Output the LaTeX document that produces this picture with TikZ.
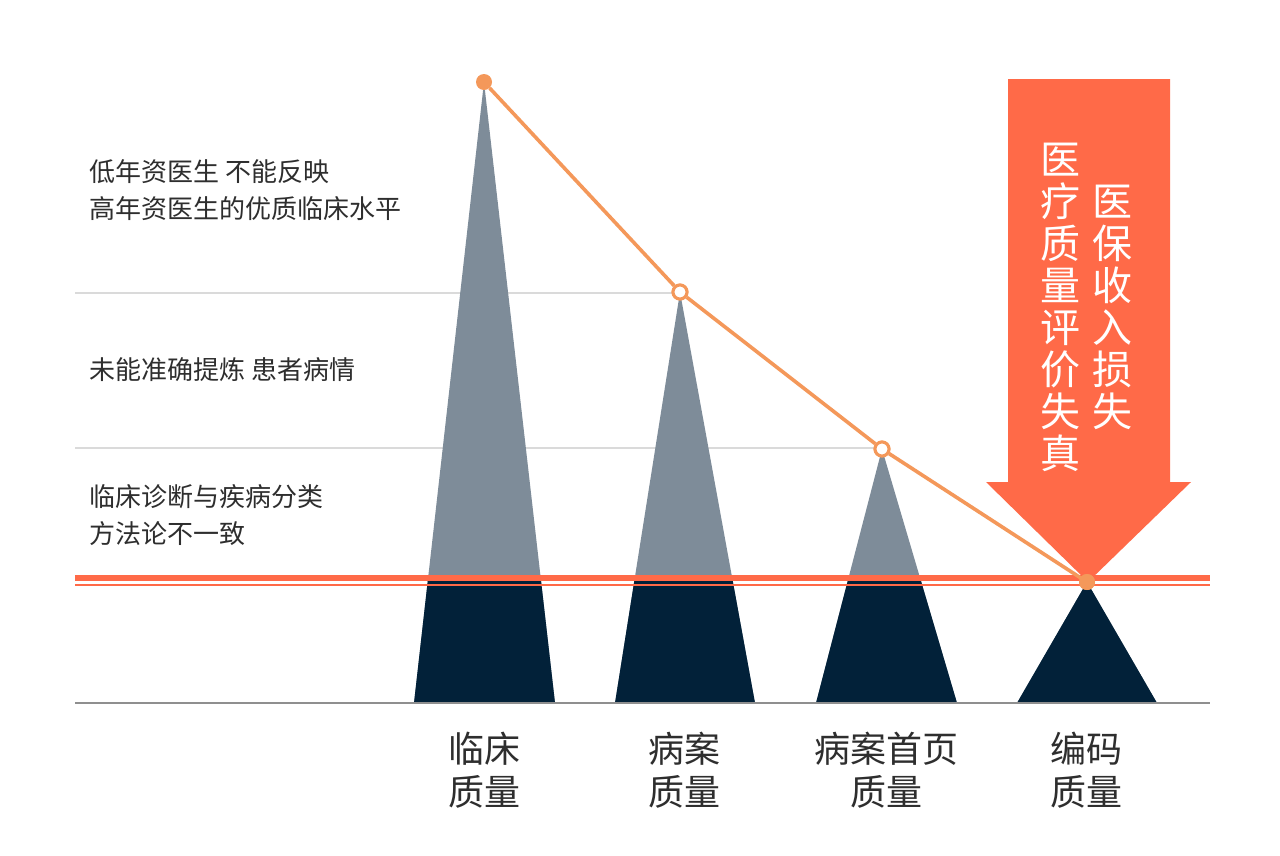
\documentclass[tikz,border=0pt]{standalone}
\usepackage{fontspec}
\setmainfont{Noto Sans CJK SC}
\definecolor{slategray}{HTML}{7E8C99}
\definecolor{navydark}{HTML}{022139}
\definecolor{orangeline}{HTML}{F4985A}
\definecolor{redorange}{HTML}{FF6A48}
\definecolor{guidegray}{HTML}{DADADA}
\definecolor{basegray}{HTML}{8F8F8F}
\definecolor{txtgray}{HTML}{2E2E2E}
\tikzset{
  peakup/.style={fill=slategray},
  peakdown/.style={fill=navydark},
  guide/.style={draw=guidegray, line width=2pt},
  trend/.style={draw=orangeline, line width=3.6pt},
  dotfull/.style={circle, fill=orangeline, inner sep=0pt, minimum size=16pt},
  dotopen/.style={circle, draw=orangeline, fill=white, line width=3pt, inner sep=0pt, minimum size=14pt},
  sidenote/.style={anchor=west, align=left, text=txtgray, font=\fontsize{26}{37}\selectfont, inner sep=0pt},
  catlabel/.style={align=center, text=txtgray, font=\fontsize{36}{43}\selectfont, inner sep=0pt},
  arrowtext/.style={align=center, text=white, font=\fontsize{40}{42}\selectfont, inner sep=0pt},
}
\begin{document}
\begin{tikzpicture}[x=1pt,y=-1pt]
\useasboundingbox (0,0) rectangle (1280,855);
\fill[white] (0,0) rectangle (1280,855);
% guide lines
\draw[guide] (75,293) -- (680,293);
\draw[guide] (75,448) -- (882,448);
% peaks
\foreach \ax/\ay/\bl/\br in {484/82/414/555, 680/292/615/755, 882/449/816/957, 1087/582/1017/1157}{
  \fill[peakup] (\ax,\ay) -- (\bl,703) -- (\br,703) -- cycle;
  \begin{scope}
    \clip (0,579) rectangle (1280,703);
    \fill[peakdown] (\ax,\ay) -- (\bl,703) -- (\br,703) -- cycle;
  \end{scope}
}
% baseline
\draw[basegray, line width=1.6pt] (75,703) -- (1210,703);
% red lines
\draw[redorange, line width=6pt] (75,578) -- (1210,578);
\draw[redorange, line width=2pt] (75,584.5) -- (1210,584.5);
% big arrow
\fill[redorange] (1008,79) -- (1170,79) -- (1170,482) -- (1191,482) -- (1088,582) -- (986,482) -- (1008,482) -- cycle;
\node[arrowtext] (colA) at (1060,307) {医\\疗\\质\\量\\评\\价\\失\\真};
\node[arrowtext] (colB) at (1112,307) {医\\保\\收\\入\\损\\失};
% trend line
\node[dotfull] (p1) at (484,82) {};
\node[dotopen] (p2) at (680,292) {};
\node[dotopen] (p3) at (882,449) {};
\node[dotfull] (p4) at (1087,582) {};
\draw[trend] (p1) -- (p2) -- (p3) -- (p4.center);
\node[dotopen] at (p2) {};
\node[dotopen] at (p3) {};
\node[dotfull] at (p4) {};
% side notes
\node[sidenote] (n1) at (89,190) {低年资医生 不能反映\\高年资医生的优质临床水平};
\node[sidenote] (n2) at (89,370) {未能准确提炼 患者病情};
\node[sidenote] (n3) at (89,515) {临床诊断与疾病分类\\方法论不一致};
% category labels
\node[catlabel] (c1) at (484,770) {临床\\质量};
\node[catlabel] (c2) at (684,770) {病案\\质量};
\node[catlabel] (c3) at (886,770) {病案首页\\质量};
\node[catlabel] (c4) at (1086,770) {编码\\质量};
\end{tikzpicture}
\end{document}
